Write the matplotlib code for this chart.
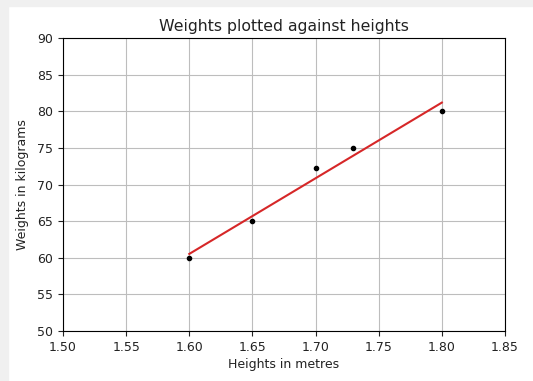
import numpy as np
import matplotlib
matplotlib.use("Agg")
import matplotlib.pyplot as plt

heights = [1.60, 1.65, 1.70, 1.73, 1.80]
weights = [60, 65, 72.2, 75, 80]
xticks = [1.50, 1.55, 1.60, 1.65, 1.70, 1.75, 1.80, 1.85]
yticks = [50, 55, 60, 65, 70, 75, 80, 85, 90]

fig = plt.figure(figsize=(5.33, 3.81), dpi=100)
ax = fig.add_axes([63/533, 1-331/381, (505-63)/533, (331-38)/381])

slope, intercept = np.polyfit(heights, weights, 1)
hx = np.array([min(heights), max(heights)])
ax.plot(heights, weights, 'k.', markersize=6, zorder=3)
ax.plot(hx, slope*hx + intercept, color='#d62728', linewidth=1.5, zorder=2)

ax.set_xlim(1.50, 1.85)
ax.set_ylim(50, 90)
ax.set_xticks(xticks)
ax.set_yticks(yticks)
ax.set_xticklabels([f"{t:.2f}" for t in xticks])
ax.set_yticklabels([str(t) for t in yticks])
ax.tick_params(labelsize=9, colors='#222222')
ax.grid(True, color='#bdbdbd', linewidth=0.8)
ax.set_axisbelow(True)
ax.set_title("Weights plotted against heights", fontsize=11.3, color='#222222', pad=5)
ax.set_xlabel("Heights in metres", fontsize=9, color='#222222', labelpad=3)
ax.set_ylabel("Weights in kilograms", fontsize=9, color='#222222', labelpad=6)

# screenshot frame
fig.patches.append(plt.Rectangle((0, 0), 8/533, 1, transform=fig.transFigure, color='#f0f0f0', zorder=-1))
fig.patches.append(plt.Rectangle((0, 1-6/381), 1, 6/381, transform=fig.transFigure, color='#f0f0f0', zorder=-1))

fig.savefig("out.png", dpi=100)
